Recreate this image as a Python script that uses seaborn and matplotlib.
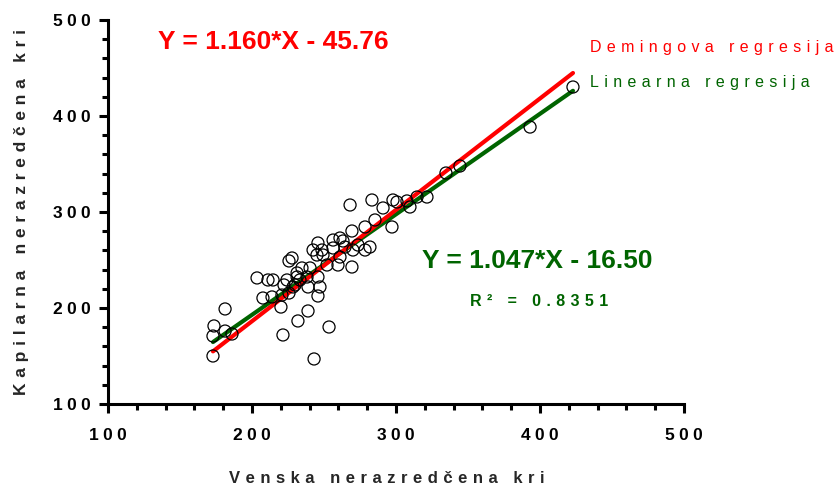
import numpy as np
import pandas as pd
import matplotlib
matplotlib.use("Agg")
import matplotlib.pyplot as plt
import seaborn as sns
from matplotlib.ticker import MultipleLocator, FuncFormatter

# ---- data ----
venska = [172.9, 173.6, 172.9, 181.3, 186.1, 181.3, 203.5, 207.6, 211.1, 213.9,
          220.8, 225.7, 225.7, 220.1, 224.3, 221.5, 231.9, 238.9, 245.8, 243.1,
          253.5, 231.3, 233.3, 228.5, 222.2, 214.6, 256.3, 269.4, 261.1, 263.2,
          245.8, 248.6, 242.4, 245.1, 249.3, 256.3, 264.6, 261.1, 269.4, 259.7,
          252.1, 240.3, 234.7, 231.3, 238.2, 245.8, 247.2, 238.9, 229.9, 227.8,
          268.1, 283.3, 291.0, 297.9, 300.7, 307.6, 309.7, 314.6, 321.5, 285.4,
          278.5, 297.2, 273.6, 281.9, 278.5, 270.1, 334.7, 344.4, 393.1, 422.9]
kapilarna = [150.0, 181.3, 170.8, 176.0, 172.9, 199.0, 231.3, 210.4, 229.2, 211.5,
             213.5, 215.6, 249.0, 201.0, 229.2, 171.9, 186.5, 196.9, 212.5, 146.9,
             180.2, 236.5, 229.2, 221.9, 224.0, 229.2, 270.8, 280.2, 272.9, 269.8,
             267.7, 260.4, 260.4, 255.2, 255.2, 262.5, 263.5, 253.1, 242.7, 244.8,
             244.8, 241.7, 241.7, 232.3, 232.3, 232.3, 221.9, 221.9, 224.0, 252.1,
             307.3, 312.5, 304.2, 312.5, 310.4, 311.5, 305.2, 315.6, 315.6, 291.7,
             284.4, 284.4, 265.6, 263.5, 260.4, 260.4, 340.6, 347.9, 388.5, 430.2]

deming_slope, deming_intercept = 1.160, -45.76
linear_slope, linear_intercept = 1.047, -16.50
r_squared = 0.8351

x_ticks = [100, 200, 300, 400, 500]
y_ticks = [100, 200, 300, 400, 500]

RED = "#ff0000"
GREEN = "#006400"

sns.set_theme(style="ticks")
plt.rcParams['font.family'] = ['Liberation Sans', 'DejaVu Sans']

W, H = 840, 486
fig = plt.figure(figsize=(W / 100, H / 100), dpi=100)
ax = fig.add_axes([108 / W, 1 - 404 / H, 576 / W, 384 / H])

def sp(s, gap="\u2004"):
    return gap.join(s)

df = pd.DataFrame({"x": venska, "y": kapilarna})
xs = np.array([min(venska), max(venska)])
lin_df = pd.DataFrame({"x": xs, "y": linear_slope * xs + linear_intercept})
dem_df = pd.DataFrame({"x": xs, "y": deming_slope * xs + deming_intercept})

sns.lineplot(data=lin_df, x="x", y="y", color=GREEN, linewidth=3.0, ax=ax, zorder=2)
sns.lineplot(data=dem_df, x="x", y="y", color=RED, linewidth=3.0, ax=ax, zorder=2.1)
sns.scatterplot(data=df, x="x", y="y", facecolors="none", edgecolors="black",
                s=75, linewidth=0.9, ax=ax, zorder=3)

ax.set_xlim(100, 500)
ax.set_ylim(100, 500)
ax.set_xticks(x_ticks)
ax.set_yticks(y_ticks)
ax.xaxis.set_minor_locator(MultipleLocator(20))
ax.yaxis.set_minor_locator(MultipleLocator(20))
tick_fmt = FuncFormatter(lambda v, p: sp(f"{v:.0f}", "\u2005"))
ax.xaxis.set_major_formatter(tick_fmt)
ax.yaxis.set_major_formatter(tick_fmt)
for s in ["top", "right"]:
    ax.spines[s].set_visible(False)
for s in ["left", "bottom"]:
    ax.spines[s].set_linewidth(2.2)
    ax.spines[s].set_color("black")
ax.tick_params(which="major", length=6.5, width=2.2, color="black", labelsize=12.5)
ax.tick_params(axis="y", which="major", pad=6)
ax.tick_params(axis="x", which="major", pad=11)
ax.tick_params(which="minor", length=4.0, width=2.2, color="black")
for lab in ax.get_xticklabels() + ax.get_yticklabels():
    lab.set_fontweight("bold")
    lab.set_color("black")

ax.set_xlabel(sp("Venska nerazredčena kri"), fontsize=12, fontweight="bold", va="center")
ax.set_ylabel(sp("Kapilarna nerazredčena kri"), fontsize=12.5, fontweight="bold", va="center")
ax.xaxis.set_label_coords(0.484, -(478 - 404) / 384)
ax.yaxis.set_label_coords((22 - 108) / 576, 0.5)

def ftext(px, py, s, **kw):
    fig.text(px / W, 1 - py / H, s, **kw)

ftext(158, 42, f"Y = {deming_slope:.3f}*X - {abs(deming_intercept):.2f}", color=RED,
      fontsize=19, fontweight="bold", ha="left", va="center")
ftext(590, 47, sp("Demingova regresija"), color=RED, fontsize=11.5, ha="left", va="center")
ftext(590, 83, sp("Linearna regresija"), color=GREEN, fontsize=11.5, ha="left", va="center")
ftext(422, 261, f"Y = {linear_slope:.3f}*X - {abs(linear_intercept):.2f}", color=GREEN,
      fontsize=19, fontweight="bold", ha="left", va="center")
ftext(470, 302, sp(f"R² = {r_squared:.4f}"), color=GREEN, fontsize=11.5,
      fontweight="bold", ha="left", va="center")

fig.savefig("out.png", dpi=100)
